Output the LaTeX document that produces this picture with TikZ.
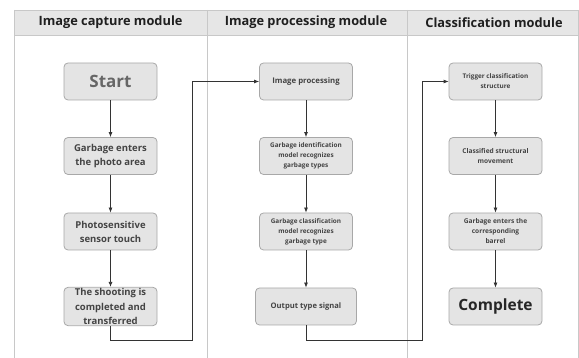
\documentclass[tikz,border=0pt]{standalone}
\usepackage{fontspec}
\setmainfont{Open Sans}
\usetikzlibrary{arrows.meta}
\definecolor{boxfill}{HTML}{E4E4E4}
\definecolor{boxline}{HTML}{A8A8A8}
\definecolor{headfill}{HTML}{E6E6E6}
\definecolor{gridline}{HTML}{C8C8C8}
\definecolor{txt}{HTML}{444444}
\definecolor{flow}{HTML}{333333}
\tikzset{
  stepbox/.style={draw=boxline, fill=boxfill, rounded corners=4pt, line width=0.8pt,
    minimum width=93pt, minimum height=37pt, align=center, text=txt,
    font=\bfseries, inner sep=1pt},
  headtext/.style={font=\bfseries\fontsize{12.8}{14}\selectfont, text=black!88},
  flowline/.style={draw=flow, line width=0.8pt, -{Latex[length=5pt,width=4pt]}},
}
\begin{document}
\begin{tikzpicture}[x=1pt,y=-1pt]
\useasboundingbox (0,0) rectangle (579,358);
% table frame and header row
\fill[headfill] (14,10) rectangle (578,35);
\draw[gridline, line width=0.8pt] (14,10) -- (578,10);
\draw[gridline, line width=0.8pt] (14,35) -- (578,35);
\foreach \x in {14,207,407,578} \draw[gridline, line width=0.9pt] (\x,10) -- (\x,358);
\node[headtext] (h1) at (110.5,22.5) {Image capture module};
\node[headtext] (h2) at (306,22.5) {Image processing module};
\node[headtext] (h3) at (494,22.5) {Classification module};

% image capture column
\node[stepbox, font=\bfseries\fontsize{17}{19}\selectfont, text=black!60] (a1) at (110.5,81.5) {Start};
\node[stepbox, font=\bfseries\fontsize{9.5}{14}\selectfont] (a2) at (110.5,156) {Garbage enters\\the photo area};
\node[stepbox, font=\bfseries\fontsize{9.5}{14}\selectfont] (a3) at (110.5,231.5) {Photosensitive\\sensor touch};
\node[stepbox, font=\bfseries\fontsize{9.5}{14.5}\selectfont] (a4) at (110.5,306.5) {The shooting is\\completed and\\transferred};

% image processing column
\node[stepbox, font=\bfseries\fontsize{7.8}{10}\selectfont] (b1) at (306,81.5) {Image processing};
\node[stepbox, font=\bfseries\fontsize{6.4}{10}\selectfont] (b2) at (306,156) {Garbage identification\\model recognizes\\garbage types};
\node[stepbox, font=\bfseries\fontsize{6.4}{10}\selectfont] (b3) at (306,231.5) {Garbage classification\\model recognizes\\garbage type};
\node[stepbox, minimum width=101pt, font=\bfseries\fontsize{7.6}{10}\selectfont] (b4) at (306,306.5) {Output type signal};

% classification column
\node[stepbox, font=\bfseries\fontsize{6.4}{10}\selectfont] (c1) at (495.5,81.5) {Trigger classification\\structure};
\node[stepbox, font=\bfseries\fontsize{6.6}{10}\selectfont] (c2) at (495.5,156) {Classified structural\\movement};
\node[stepbox, font=\bfseries\fontsize{6.6}{10}\selectfont] (c3) at (495.5,231.5) {Garbage enters the\\corresponding\\barrel};
\node[stepbox, font=\bfseries\fontsize{15.5}{18}\selectfont, text=black!85] (c4) at (495.5,306.5) {Complete};

% flow connectors
\coordinate (ta) at (192,340);
\coordinate (tb) at (422,340);
\draw[flowline] (a1) -- (a2);
\draw[flowline] (a2) -- (a3);
\draw[flowline] (a3) -- (a4);
\draw[flowline] (a4.south) |- (ta) |- (b1.west);
\draw[flowline] (b1) -- (b2);
\draw[flowline] (b2) -- (b3);
\draw[flowline] (b3) -- (b4);
\draw[flowline] (b4.south) |- (tb) |- (c1.west);
\draw[flowline] (c1) -- (c2);
\draw[flowline] (c2) -- (c3);
\draw[flowline] (c3) -- (c4);
\end{tikzpicture}
\end{document}
